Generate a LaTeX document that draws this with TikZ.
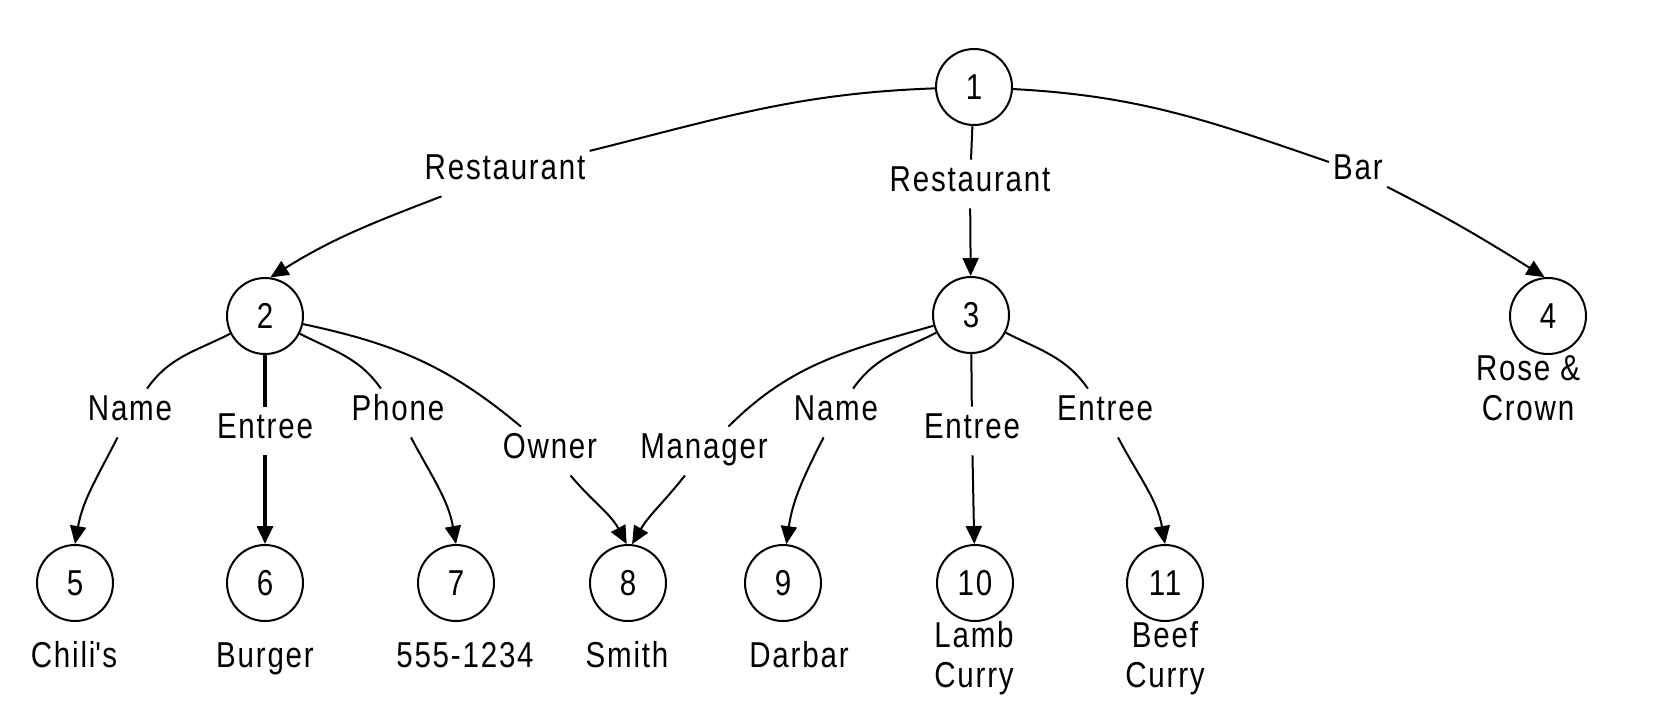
\documentclass[tikz,border=0pt]{standalone}
\usepackage{fontspec}
\setmainfont{Liberation Sans}[FakeStretch=0.82,LetterSpace=5]
\usetikzlibrary{arrows.meta}
\begin{document}
\begin{tikzpicture}[x=0.5pt,y=0.5pt,
  every node/.style={font=\fontsize{18pt}{20pt}\selectfont},
  vertex/.style={circle,draw,line width=1pt,minimum size=38pt,inner sep=0pt},
  elabel/.style={inner xsep=2pt,inner ysep=0pt,text height=15.5pt,text depth=8.5pt,anchor=base},
  caption/.style={inner sep=0pt,anchor=base},
  edge/.style={line width=1pt,-{Triangle[length=9pt,width=8pt]}},
  boldedge/.style={line width=1.6pt,-{Triangle[length=9pt,width=8pt]}}
]
\useasboundingbox (0,0) rectangle (1660,-714);

% vertices
\node[vertex] (n1) at (974,-87) {1};
\node[vertex] (n2) at (265,-316) {2};
\node[vertex] (n3) at (971,-315) {3};
\node[vertex] (n4) at (1548,-316) {4};
\node[vertex] (n5) at (75,-583) {5};
\node[vertex] (n6) at (265,-583) {6};
\node[vertex] (n7) at (456,-583) {7};
\node[vertex] (n8) at (628,-583) {8};
\node[vertex] (n9) at (783,-583) {9};
\node[vertex] (n10) at (975,-583) {10};
\node[vertex] (n11) at (1165,-583) {11};

% edge labels
\node[elabel] (l12) at (505,-179) {Restaurant};
\node[elabel] (l13) at (970,-191) {Restaurant};
\node[elabel] (l14) at (1358,-179) {Bar};
\node[elabel] (l25) at (130,-420) {Name};
\node[elabel] (l26) at (265,-438) {Entree};
\node[elabel] (l27) at (398,-420) {Phone};
\node[elabel] (l28) at (550,-458) {Owner};
\node[elabel] (l38) at (704,-458) {Manager};
\node[elabel] (l39) at (836,-420) {Name};
\node[elabel] (l310) at (972,-438) {Entree};
\node[elabel] (l311) at (1105,-420) {Entree};

% captions
\node[caption] (c4a) at (1528,-380) {Rose \&};
\node[caption] (c4b) at (1528,-420) {Crown};
\node[caption] (c5) at (74,-667) {Chili\textquotesingle s};
\node[caption] (c6) at (265,-667) {Burger};
\node[caption] (c7) at (465,-667) {555-1234};
\node[caption] (c8) at (627,-667) {Smith};
\node[caption] (c9) at (799,-667) {Darbar};
\node[caption] (c10a) at (974,-647) {Lamb};
\node[caption] (c10b) at (974,-687) {Curry};
\node[caption] (c11a) at (1165,-647) {Beef};
\node[caption] (c11b) at (1165,-687) {Curry};

% edges
\draw[edge] (n1) to[out=182,in=14] (l12) (l12) to[out=201,in=32] (n2.82);
\draw[edge] (n1) -- (l13) (l13) -- (n3);
\draw[edge] (n1) to[out=-3,in=161] (l14) (l14) to[out=-27,in=148] (n4.95);

\draw[edge] (n2) to[out=207,in=55] (l25) (l25) to[out=243,in=80] (n5.north);
\draw[boldedge] (n2) -- (l26) (l26) -- (n6);
\draw[edge] (n2) to[out=-27,in=125] (l27) (l27) to[out=-62,in=100] (n7.north);
\draw[edge] (n2) to[out=-12,in=140] (l28) (l28) to[out=-50,in=118] (n8.92);

\draw[edge] (n3) to[out=196,in=45] (l38) (l38) to[out=232,in=60] (n8.84);
\draw[edge] (n3) to[out=207,in=55] (l39) (l39) to[out=243,in=82] (n9.85);
\draw[edge] (n3) -- (l310) (l310) -- (n10);
\draw[edge] (n3) to[out=-27,in=125] (l311) (l311) to[out=-62,in=100] (n11.north);
\end{tikzpicture}
\end{document}
